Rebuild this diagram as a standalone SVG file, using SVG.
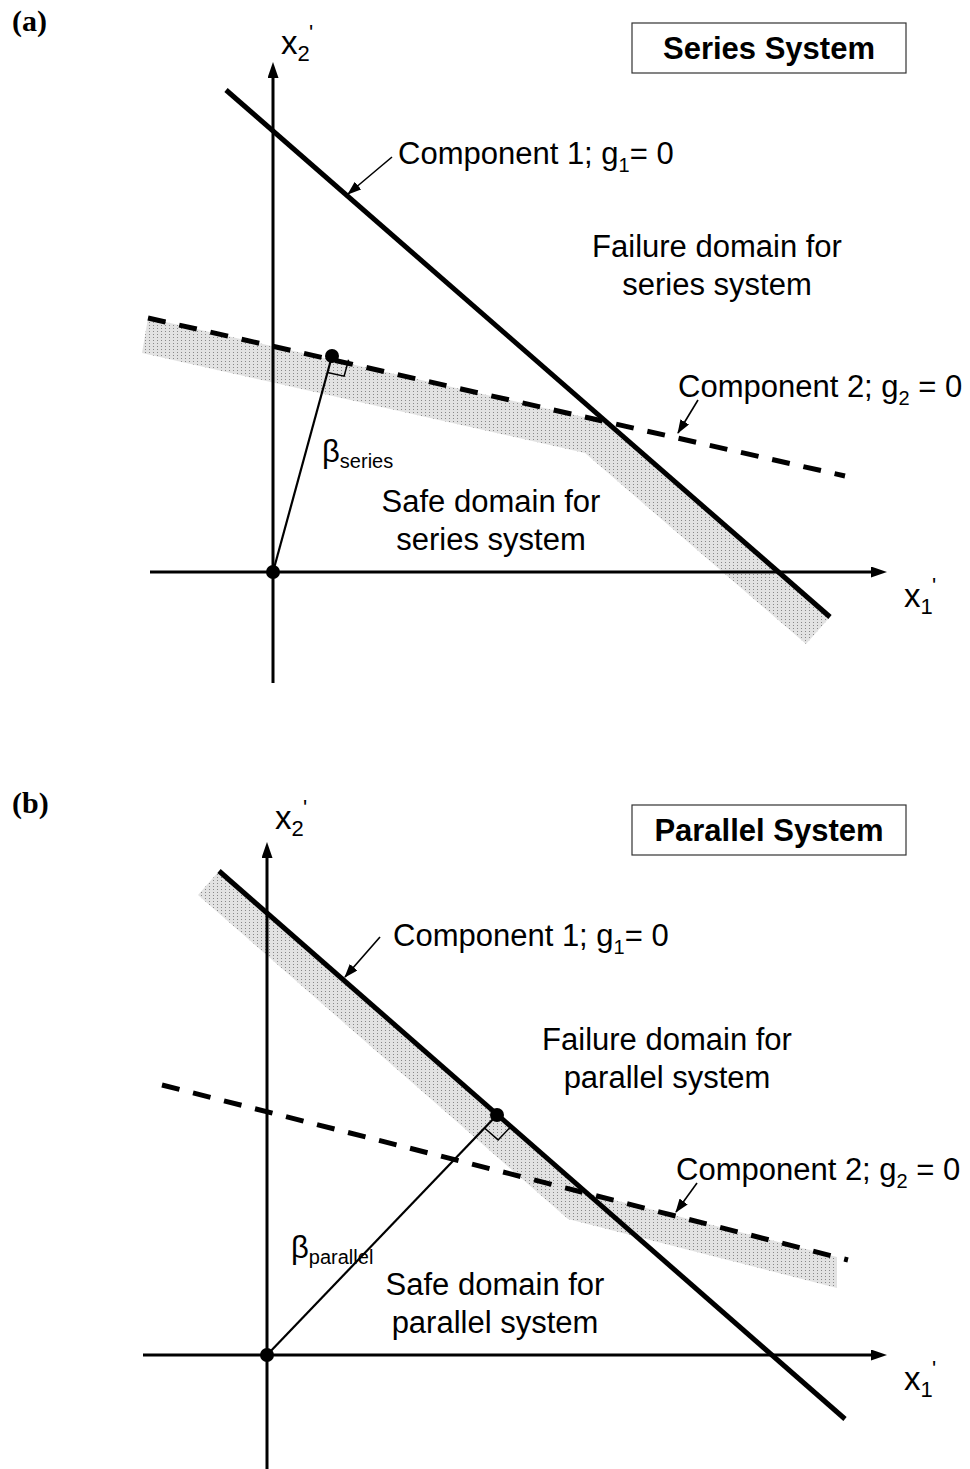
<svg xmlns="http://www.w3.org/2000/svg" width="970" height="1469" viewBox="0 0 970 1469">
<defs>
<pattern id="stipple" width="4" height="3" patternUnits="userSpaceOnUse"><rect width="4" height="3" fill="#e2e2e2"/><rect x="1" y="1" width="1" height="1" fill="#888"/></pattern>
<marker id="axisHead" markerUnits="userSpaceOnUse" markerWidth="16" markerHeight="11" viewBox="0 0 16 11" refX="6" refY="5.5" orient="auto"><path d="M0,0 L16,5.5 L0,11 z" fill="#000"/></marker>
<marker id="leaderHead" markerUnits="userSpaceOnUse" markerWidth="14" markerHeight="10" viewBox="0 0 14 10" refX="13" refY="5" orient="auto"><path d="M0,0 L14,5 L0,10 z" fill="#000"/></marker>
</defs>
<style>
.lbl{font-family:"Liberation Sans",Arial,sans-serif;font-size:31px;fill:#000}
.sub{font-size:20px}
.ax{font-family:"Liberation Sans",Arial,sans-serif;font-size:33px;fill:#000}
.axs{font-size:22px}
.ttl{font-family:"Liberation Sans",Arial,sans-serif;font-size:31px;font-weight:bold;fill:#000}
.tag{font-family:"Liberation Serif","Times New Roman",serif;font-size:30px;font-weight:bold;fill:#000}
.axis{stroke:#000;stroke-width:3;fill:none}
.lsf{stroke:#000;stroke-width:5;fill:none}
.dash{stroke:#000;stroke-width:5;stroke-dasharray:18 14;fill:none}
.beta{stroke:#000;stroke-width:2.2;fill:none}
.leader{stroke:#000;stroke-width:1.6;fill:none}
.ra{stroke:#000;stroke-width:1.5;fill:none}
.band{fill:url(#stipple)}
.box{fill:#fff;stroke:#333;stroke-width:1.2}
</style>

<!-- Panel (a) -->
<g id="panel-a">
  <text class="tag" x="12" y="31">(a)</text>
  <g id="a-band"><polygon class="band" points="148,318 606,422 830,617 806,644 585,453 142,353"/></g>
  <g id="a-axes">
    <line class="axis" x1="273" y1="683" x2="273" y2="72" marker-end="url(#axisHead)"/>
    <line class="axis" x1="150" y1="572" x2="877" y2="572" marker-end="url(#axisHead)"/>
    <text class="ax" x="281" y="54">x<tspan class="axs" dy="7">2</tspan></text>
    <text class="ax axs" x="309" y="40">'</text>
    <text class="ax" x="904" y="607">x<tspan class="axs" dy="7">1</tspan></text>
    <text class="ax axs" x="932" y="593">'</text>
  </g>
  <g id="a-connectors">
    <line class="lsf" x1="226" y1="90" x2="830" y2="617"/>
    <line class="dash" x1="148" y1="318" x2="845" y2="476"/>
    <line class="beta" x1="273" y1="572" x2="332" y2="356"/>
    <path class="ra" d="M348.6,359.8 L344.1,376.2 L327.5,372.4"/>
    <line class="leader" x1="392" y1="157" x2="348" y2="194" marker-end="url(#leaderHead)"/>
    <line class="leader" x1="698" y1="400" x2="678" y2="433" marker-end="url(#leaderHead)"/>
  </g>
  <g id="a-origin"><circle cx="273" cy="572" r="7" fill="#000"/></g>
  <g id="a-betapoint"><circle cx="332" cy="356" r="7" fill="#000"/></g>
  <g id="a-title">
    <rect class="box" x="632" y="23" width="274" height="50"/>
    <text class="ttl" x="769" y="59" text-anchor="middle">Series System</text>
  </g>
  <g id="a-comp1"><text class="lbl" x="398" y="164">Component 1; g<tspan class="sub" dy="8">1</tspan><tspan dy="-8">= 0</tspan></text></g>
  <g id="a-comp2"><text class="lbl" x="678" y="397">Component 2; g<tspan class="sub" dy="8">2</tspan><tspan dy="-8"> = 0</tspan></text></g>
  <g id="a-failure">
    <text class="lbl" x="717" y="257" text-anchor="middle">Failure domain for</text>
    <text class="lbl" x="717" y="295" text-anchor="middle">series system</text>
  </g>
  <g id="a-safe">
    <text class="lbl" x="491" y="512" text-anchor="middle">Safe domain for</text>
    <text class="lbl" x="491" y="550" text-anchor="middle">series system</text>
  </g>
  <g id="a-beta"><text class="lbl" x="322" y="462">β<tspan class="sub" dy="6">series</tspan></text></g>
</g>

<!-- Panel (b) -->
<g id="panel-b">
  <text class="tag" x="12" y="813">(b)</text>
  <g id="b-band"><polygon class="band" points="219,871 587,1193 837,1257 837,1288 568,1219 198,895"/></g>
  <g id="b-axes">
    <line class="axis" x1="267" y1="1469" x2="267" y2="852" marker-end="url(#axisHead)"/>
    <line class="axis" x1="143" y1="1355" x2="877" y2="1355" marker-end="url(#axisHead)"/>
    <text class="ax" x="275" y="829">x<tspan class="axs" dy="7">2</tspan></text>
    <text class="ax axs" x="303" y="815">'</text>
    <text class="ax" x="904" y="1390">x<tspan class="axs" dy="7">1</tspan></text>
    <text class="ax axs" x="932" y="1376">'</text>
  </g>
  <g id="b-connectors">
    <line class="lsf" x1="219" y1="871" x2="845" y2="1419"/>
    <line class="dash" x1="162" y1="1085" x2="848" y2="1260"/>
    <line class="beta" x1="267" y1="1355" x2="497" y2="1115"/>
    <path class="ra" d="M510.5,1126.9 L498.1,1139.9 L484.5,1128"/>
    <line class="leader" x1="380" y1="937" x2="345" y2="977" marker-end="url(#leaderHead)"/>
    <line class="leader" x1="697" y1="1183" x2="676" y2="1212" marker-end="url(#leaderHead)"/>
  </g>
  <g id="b-origin"><circle cx="267" cy="1355" r="7" fill="#000"/></g>
  <g id="b-betapoint"><circle cx="497" cy="1115" r="7" fill="#000"/></g>
  <g id="b-title">
    <rect class="box" x="632" y="805" width="274" height="50"/>
    <text class="ttl" x="769" y="841" text-anchor="middle">Parallel System</text>
  </g>
  <g id="b-comp1"><text class="lbl" x="393" y="946">Component 1; g<tspan class="sub" dy="8">1</tspan><tspan dy="-8">= 0</tspan></text></g>
  <g id="b-comp2"><text class="lbl" x="676" y="1180">Component 2; g<tspan class="sub" dy="8">2</tspan><tspan dy="-8"> = 0</tspan></text></g>
  <g id="b-failure">
    <text class="lbl" x="667" y="1050" text-anchor="middle">Failure domain for</text>
    <text class="lbl" x="667" y="1088" text-anchor="middle">parallel system</text>
  </g>
  <g id="b-safe">
    <text class="lbl" x="495" y="1295" text-anchor="middle">Safe domain for</text>
    <text class="lbl" x="495" y="1333" text-anchor="middle">parallel system</text>
  </g>
  <g id="b-beta"><text class="lbl" x="291" y="1258">β<tspan class="sub" dy="6">parallel</tspan></text></g>
</g>
</svg>
